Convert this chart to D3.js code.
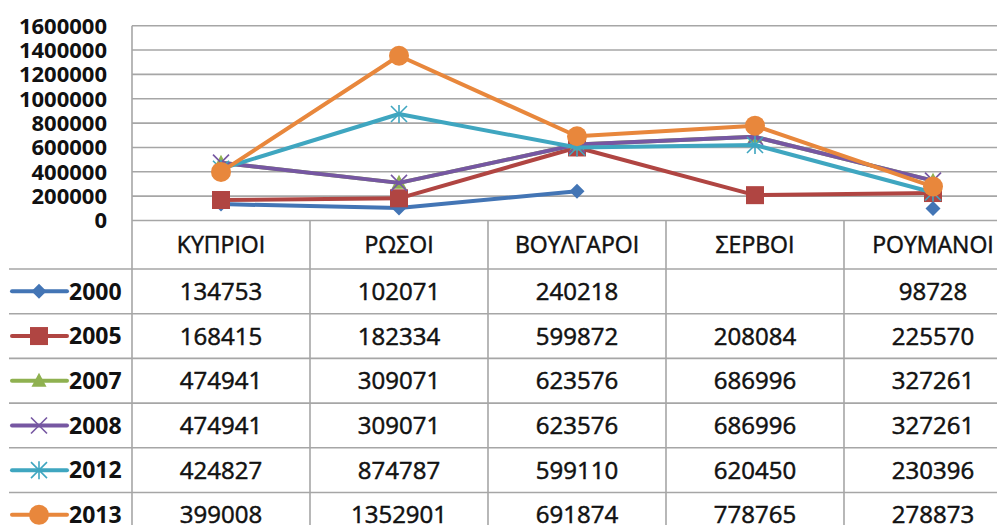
<!DOCTYPE html>
<html>
<head>
<meta charset="utf-8">
<script src="https://cdn.jsdelivr.net/npm/d3@7"></script>
<style>
  body { margin: 0; background: #fff; }
  #chart { width: 997px; height: 525px; }
  text { font-family: "Open Sans", "DejaVu Sans", sans-serif; fill: #111; }
</style>
</head>
<body>
<div id="chart"></div>
<script>
// data
const categories = ["ΚΥΠΡΙΟΙ", "ΡΩΣΟΙ", "ΒΟΥΛΓΑΡΟΙ", "ΣΕΡΒΟΙ", "ΡΟΥΜΑΝΟΙ"];
const years = ["2000", "2005", "2007", "2008", "2012", "2013"];
const v2000 = [134753, 102071, 240218, null, 98728];
const v2005 = [168415, 182334, 599872, 208084, 225570];
const v2007 = [474941, 309071, 623576, 686996, 327261];
const v2008 = [474941, 309071, 623576, 686996, 327261];
const v2012 = [424827, 874787, 599110, 620450, 230396];
const v2013 = [399008, 1352901, 691874, 778765, 278873];
const yTicks = [0, 200000, 400000, 600000, 800000, 1000000, 1200000, 1400000, 1600000];

const seriesValues = [v2000, v2005, v2007, v2008, v2012, v2013];
const colors = ["#4375B5", "#B04542", "#8FB150", "#7657A2", "#3FA6C0", "#E8873C"];
const markers = ["diamond", "square", "triangle", "x", "star", "circle"];

const series = years.map((y, i) => ({ name: y, values: seriesValues[i], color: colors[i], marker: markers[i] }));

// layout
const width = 997, height = 525;
const plotLeft = 132, colW = 178;
const plotTop = 25.7, plotBottom = 220.5;
const headerH = 48.5, rowH = 44.7;
const legendLeft = 9;

const svg = d3.select("#chart").append("svg")
    .attr("width", width)
    .attr("height", height);

const x = d3.scaleBand()
    .domain(categories)
    .range([plotLeft, plotLeft + colW * categories.length]);

const y = d3.scaleLinear()
    .domain([0, 1600000])
    .range([plotBottom, plotTop]);

// gridlines
svg.append("g")
    .selectAll("line")
    .data(yTicks)
    .enter().append("line")
    .attr("x1", plotLeft).attr("x2", width)
    .attr("y1", d => y(d)).attr("y2", d => y(d))
    .attr("stroke", "#a6a6a6")
    .attr("stroke-width", 1.6);

// y axis labels
svg.append("g")
    .selectAll("text")
    .data(yTicks)
    .enter().append("text")
    .attr("x", 107)
    .attr("y", d => y(d))
    .attr("dy", "0.36em")
    .attr("text-anchor", "end")
    .style("font-size", "22px")
    .style("font-weight", "bold")
    .text(d => d);

// table
const tableTop = plotBottom;
const rowY = i => tableTop + headerH + i * rowH;
const tableBottom = rowY(years.length);

const grid = svg.append("g").attr("stroke", "#a6a6a6").attr("stroke-width", 1.6);
// left border of plot/table
grid.append("line")
    .attr("x1", plotLeft).attr("x2", plotLeft)
    .attr("y1", plotTop).attr("y2", tableBottom);
// column separators
grid.selectAll(".col")
    .data(categories.slice(1))
    .enter().append("line")
    .attr("x1", d => x(d)).attr("x2", d => x(d))
    .attr("y1", tableTop).attr("y2", tableBottom);
// row separators
grid.selectAll(".row")
    .data(d3.range(years.length))
    .enter().append("line")
    .attr("x1", legendLeft).attr("x2", width)
    .attr("y1", i => rowY(i)).attr("y2", i => rowY(i));

// header
svg.append("g")
    .selectAll("text")
    .data(categories)
    .enter().append("text")
    .attr("x", d => x(d) + x.bandwidth() / 2)
    .attr("y", tableTop + headerH / 2)
    .attr("dy", "0.36em")
    .attr("text-anchor", "middle")
    .style("font-size", "23px")
    .style("stroke", "#111")
    .style("stroke-width", "0.5px")
    .text(d => d);

// marker drawing
function drawMarker(g, type, color) {
    if (type === "diamond") {
        g.append("path").attr("d", "M0,-7.5L7.5,0L0,7.5L-7.5,0Z").attr("fill", color);
    } else if (type === "square") {
        g.append("rect").attr("x", -9).attr("y", -9).attr("width", 18).attr("height", 18).attr("fill", color);
    } else if (type === "triangle") {
        g.append("path").attr("d", "M0,-8L7.5,6L-7.5,6Z").attr("fill", color);
    } else if (type === "x") {
        g.append("path").attr("d", "M-8,-8L8,8M-8,8L8,-8").attr("stroke", color).attr("stroke-width", 1.6).attr("fill", "none");
    } else if (type === "star") {
        g.append("path").attr("d", "M-8,-8L8,8M-8,8L8,-8M0,-9L0,9").attr("stroke", color).attr("stroke-width", 1.6).attr("fill", "none");
    } else if (type === "circle") {
        g.append("circle").attr("r", 10).attr("fill", color);
    }
}

// rows: legend + values
series.forEach(function (s, i) {
    const cy = rowY(i) + rowH / 2;
    const lg = svg.append("g");
    lg.append("line")
        .attr("x1", 12).attr("x2", 67)
        .attr("y1", cy).attr("y2", cy)
        .attr("stroke", s.color)
        .attr("stroke-width", 4)
        .attr("stroke-linecap", "round");
    drawMarker(lg.append("g").attr("transform", `translate(39,${cy})`), s.marker, s.color);
    lg.append("text")
        .attr("x", 69)
        .attr("y", cy)
        .attr("dy", "0.36em")
        .style("font-size", "23px")
        .style("font-weight", "bold")
        .text(s.name);

    svg.append("g")
        .selectAll("text")
        .data(s.values)
        .enter().append("text")
        .attr("x", (d, j) => x(categories[j]) + x.bandwidth() / 2)
        .attr("y", cy)
        .attr("dy", "0.36em")
        .attr("text-anchor", "middle")
        .style("font-size", "24px")
        .style("stroke", "#111")
        .style("stroke-width", "0.5px")
        .text(d => d === null ? "" : d);
});

// lines
const line = d3.line()
    .defined(d => d.v !== null)
    .x(d => x(d.c) + x.bandwidth() / 2)
    .y(d => y(d.v));

series.forEach(function (s) {
    const pts = s.values.map((v, j) => ({ c: categories[j], v: v }));
    const g = svg.append("g");
    g.append("path")
        .datum(pts)
        .attr("d", line)
        .attr("fill", "none")
        .attr("stroke", s.color)
        .attr("stroke-width", 4)
        .attr("stroke-linejoin", "round");
    pts.filter(p => p.v !== null).forEach(function (p) {
        drawMarker(g.append("g")
            .attr("transform", `translate(${x(p.c) + x.bandwidth() / 2},${y(p.v)})`), s.marker, s.color);
    });
});
</script>
</body>
</html>
